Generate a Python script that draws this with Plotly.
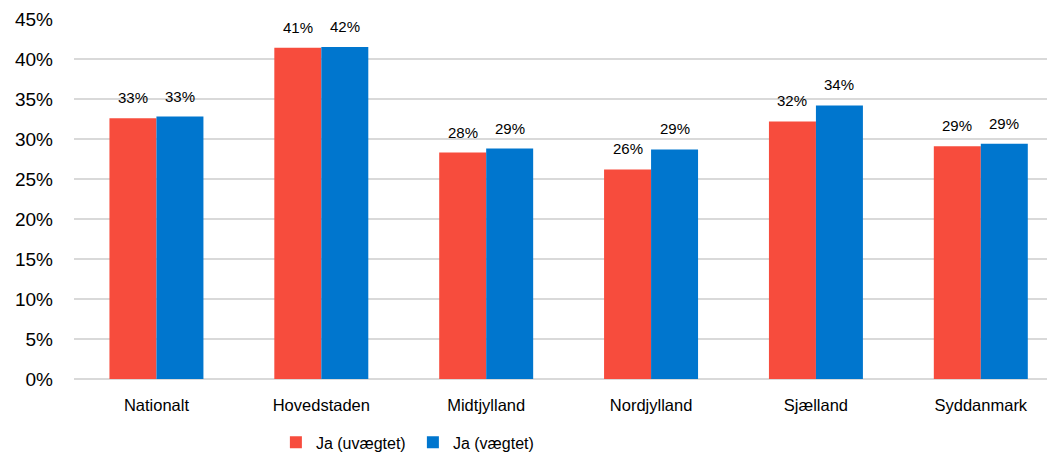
import plotly.graph_objects as go

categories = ["Nationalt", "Hovedstaden", "Midtjylland", "Nordjylland", "Sjælland", "Syddanmark"]
uvaegtet = [0.326, 0.414, 0.283, 0.262, 0.322, 0.291]
vaegtet = [0.328, 0.415, 0.288, 0.287, 0.342, 0.294]
series_names = ["Ja (uvægtet)", "Ja (vægtet)"]
y_ticks = [0, 0.05, 0.10, 0.15, 0.20, 0.25, 0.30, 0.35, 0.40, 0.45]

RED = "#F74C3D"
BLUE = "#0076CE"
FONT = "Arial, Liberation Sans, sans-serif"

fig = go.Figure()
fig.add_trace(go.Bar(x=categories, y=uvaegtet, name=series_names[0],
                     marker=dict(color=RED, line=dict(width=0))))
fig.add_trace(go.Bar(x=categories, y=vaegtet, name=series_names[1],
                     marker=dict(color=BLUE, line=dict(width=0))))

bargap = 0.43
half = (1 - bargap) / 4
annotations = []
for i, (a, b) in enumerate(zip(uvaegtet, vaegtet)):
    for off, v in ((-half, a), (half, b)):
        annotations.append(dict(
            x=i + off, y=v, xref="x", yref="y",
            text=f"{round(v * 100):.0f}%", showarrow=False,
            yanchor="middle", yshift=20.5,
            font=dict(family=FONT, size=15, color="#000000")))

# page body has an 8px default margin, so the figure is sized/offset to compensate
fig.update_layout(
    width=1047, height=447,
    margin=dict(l=66, r=0, t=11, b=75.5, pad=0, autoexpand=False),
    paper_bgcolor="white", plot_bgcolor="white",
    barmode="group", bargap=bargap, bargroupgap=0,
    font=dict(family=FONT, color="#000000"),
    annotations=annotations,
    showlegend=True,
    legend=dict(orientation="h", x=0.2058, xanchor="left", y=-0.176, yanchor="middle",
                font=dict(family=FONT, size=16, color="#000000"),
                itemwidth=30, entrywidth=92, entrywidthmode="pixels",
                tracegroupgap=0, bgcolor="rgba(0,0,0,0)"),
)
fig.update_xaxes(type="category", range=[-0.5, 5.45], showgrid=False, showline=False,
                 automargin=False,
                 ticks="", tickfont=dict(family=FONT, size=16.5, color="#000000"),
                 ticklabelstandoff=14)
fig.update_yaxes(range=[0, 0.45], tickvals=y_ticks, tickformat=".0%",
                 automargin=False,
                 showgrid=True, gridcolor="#D9D9D9", gridwidth=1.5,
                 zeroline=True, zerolinecolor="#D9D9D9", zerolinewidth=1.5,
                 showline=False, ticks="",
                 tickfont=dict(family=FONT, size=19, color="#000000"),
                 ticklabelstandoff=20)

fig.write_html("out.html")
